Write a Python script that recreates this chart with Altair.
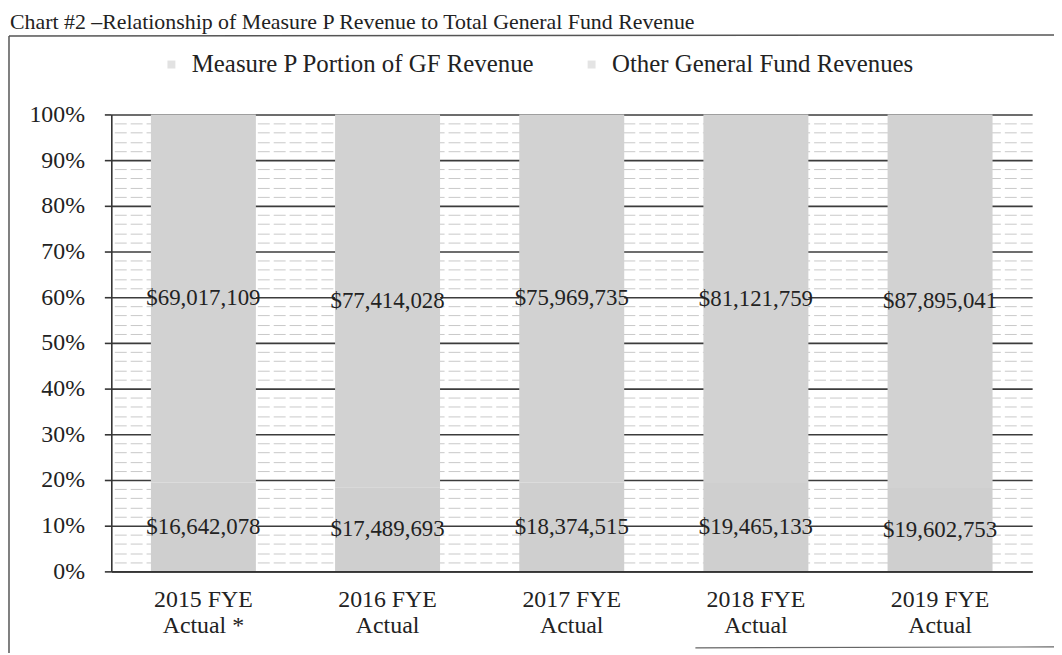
import altair as alt
import pandas as pd

# ---- data ----
years = ["2015 FYE|Actual *", "2016 FYE|Actual", "2017 FYE|Actual", "2018 FYE|Actual", "2019 FYE|Actual"]
measure_p = [16642078, 17489693, 18374515, 19465133, 19602753]
other_gf = [69017109, 77414028, 75969735, 81121759, 87895041]
series = ["Measure P Portion of GF Revenue", "Other General Fund Revenues"]
colors = ["#cfcfcf", "#d2d2d2"]
pct_ticks = [i / 10 for i in range(11)]
minor_ticks = [i / 50 for i in range(51) if i % 5 != 0]
title_text = "Chart #2 \u2013Relationship of Measure P Revenue to Total General Fund Revenue"

rows = []
for i, yr in enumerate(years):
    rows.append({"year": yr, "series": series[0], "order": 0, "value": measure_p[i]})
    rows.append({"year": yr, "series": series[1], "order": 1, "value": other_gf[i]})
df = pd.DataFrame(rows)

SERIF = "Liberation Serif"
W, H = 927, 460
DARK = "#353535"

base = alt.Chart(df).transform_stack(
    stack="value", groupby=["year"], as_=["v0", "v1"], offset="normalize",
    sort=[alt.SortField("order", order="ascending")]
).transform_calculate(
    mid="(datum.v0 + datum.v1) / 2",
    label="'$' + format(datum.value, ',d')"
)

x_enc = alt.X(
    "year:N", sort=years,
    scale=alt.Scale(paddingInner=0.43, paddingOuter=0.215),
    axis=alt.Axis(title=None, labelAngle=0, labelExpr="split(datum.label, '|')",
                  labelFont=SERIF, labelFontSize=24, labelColor="#222",
                  labelPadding=16, labelLineHeight=27, ticks=False,
                  domainColor=DARK, domainWidth=1.6, zindex=1),
)

bars = base.mark_bar().encode(
    x=x_enc,
    y=alt.Y("v0:Q", scale=alt.Scale(domain=[0, 1], nice=False),
            axis=alt.Axis(values=pct_ticks, format=".0%", title=None,
                          labelFont=SERIF, labelFontSize=24, labelColor="#222",
                          labelPadding=20, tickSize=7, tickColor=DARK, tickWidth=1.6,
                          domainColor=DARK, domainWidth=1.6,
                          grid=True, gridColor="#3c3c3c", gridWidth=1.6)),
    y2="v1:Q",
    color=alt.Color("series:N", scale=alt.Scale(domain=series, range=colors),
                    legend=alt.Legend(orient="none", legendX=48, legendY=-63,
                                      direction="horizontal", title=None,
                                      labelFont=SERIF, labelFontSize=25, labelColor="#222",
                                      labelLimit=600,
                                      symbolType="square", symbolSize=64,
                                      symbolStrokeWidth=0, symbolOpacity=0.6,
                                      labelOffset=8, columnPadding=44, padding=0)),
)

labels = base.mark_text(font=SERIF, fontSize=23, color="#222").encode(
    x=alt.X("year:N", sort=years),
    y=alt.Y("mid:Q", scale=alt.Scale(domain=[0, 1], nice=False),
            axis=alt.Axis(values=minor_ticks, orient="right", labels=False, ticks=False,
                          domain=False, grid=True, gridColor="#c9c9c9",
                          gridDash=[12, 4], gridWidth=1, title=None)),
    text="label:N",
)

title = alt.Chart(pd.DataFrame({"t": [title_text]})).mark_text(
    font=SERIF, fontSize=22, color="#222", align="left", baseline="alphabetic"
).encode(text="t:N", x=alt.value(-102), y=alt.value(-86))

frame_top = alt.Chart(pd.DataFrame({"a": [0]})).mark_rule(color="#555", strokeWidth=1.5).encode(
    x=alt.value(-103), x2=alt.value(950), y=alt.value(-79), y2=alt.value(-80))
frame_left = alt.Chart(pd.DataFrame({"a": [0]})).mark_rule(color="#555", strokeWidth=1.5).encode(
    x=alt.value(-103), x2=alt.value(-103), y=alt.value(-79), y2=alt.value(545))
frame_bottom = alt.Chart(pd.DataFrame({"a": [0]})).mark_rule(color="#666", strokeWidth=1.2).encode(
    x=alt.value(588), x2=alt.value(950), y=alt.value(537), y2=alt.value(536))

chart = alt.layer(bars, labels, title, frame_top, frame_left, frame_bottom).resolve_axis(
    y="independent"
).properties(
    width=W, height=H,
    autosize=alt.AutoSizeParams(type="none"),
    padding={"left": 104, "top": 105, "right": 22, "bottom": 80},
    background="white",
).configure_view(stroke=None)

chart.save("out.html", embed_options={"renderer": "svg", "actions": False})
